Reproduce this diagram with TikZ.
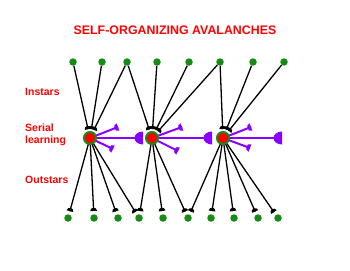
\documentclass[tikz,border=0pt]{standalone}
\usepackage{fontspec}
\setmainfont{Liberation Sans}
\usetikzlibrary{calc,backgrounds,decorations.markings}
\definecolor{ttlred}{RGB}{255,0,0}
\definecolor{dotgreen}{RGB}{22,140,22}
\definecolor{violetline}{RGB}{136,0,255}
\tikzset{
  halfcap/.style 2 args={postaction={decorate,decoration={markings,
     mark=at position 1 with {\fill[#1] (0pt,-#2) arc[start angle=-90,end angle=-270,radius=#2] -- cycle;}}}},
  bighalf/.style={postaction={decorate,decoration={markings,
     mark=at position 1 with {\fill[violetline] (0pt,-6.5pt) arc[start angle=-90,end angle=-270,x radius=8.5pt,y radius=6.5pt] -- cycle;}}}},
  cell/.style={circle,minimum size=12pt,inner sep=0pt,fill=red,draw=dotgreen,line width=2pt,outer sep=3pt},
  topdot/.style={circle,minimum size=7.5pt,inner sep=0pt,fill=dotgreen},
  botdot/.style={circle,minimum size=7.5pt,inner sep=0pt,fill=dotgreen,outer sep=3.3pt},
  blackline/.style={draw=black,line width=1.3pt,halfcap={black}{3.4pt}},
  smallviolet/.style={draw=violetline,line width=2pt,halfcap={violetline}{4pt}},
  bigviolet/.style={draw=violetline,line width=2pt,bighalf},
  lbl/.style={text=ttlred,font=\bfseries\fontsize{10.5}{11.8}\selectfont,inner sep=0pt,align=left},
  ttl/.style={text=ttlred,font=\bfseries\fontsize{12.4}{14}\selectfont,inner sep=0pt},
}
\begin{document}
\begin{tikzpicture}[x=1pt,y=-1pt]
\useasboundingbox (0,0) rectangle (350,270);
\node[ttl,anchor=base] (title) at (175,34.3) {SELF-ORGANIZING AVALANCHES};
\node[lbl,anchor=base west] (lin) at (25,95.3) {Instars};
\node[lbl,anchor=base west] (lser) at (25,143) {Serial\\learning};
\node[lbl,anchor=base west] (lout) at (25,183.3) {Outstars};
% top dots
\foreach \i/\x in {1/73,2/102,3/127,4/157,5/189,6/220,7/253,8/284}
  \node[topdot] (t\i) at (\x,62) {};
% cells
\node[cell] (n1) at (90,138) {};
\node[cell] (n2) at (152,138) {};
\node[cell] (n3) at (223,138) {};
% bottom dots
\foreach \i/\x in {1/68,2/94,3/118,4/139,5/163,6/188,7/211,8/234,9/258,10/278}
  \node[botdot] (b\i) at (\x,218) {};
% purple ends
\coordinate (e1) at (143,138);
\coordinate (u1) at (118,127);
\coordinate (d1) at (113,149);
\coordinate (e2) at (212,138);
\coordinate (u2) at (182,127);
\coordinate (d2) at (178,151);
\coordinate (e3) at (282,138);
\coordinate (u3) at (251,127);
\coordinate (d3) at (250,148);
\begin{scope}[on background layer]
  \fill[white] (0,0) rectangle (350,270);
  \foreach \a/\b in {t1/n1,t2/n1,t3/n1,t3/n2,t4/n2,t5/n2,t6/n2,t6/n3,t7/n3,t8/n3}
    \draw[blackline] (\a) -- (\b);
  \foreach \a/\b in {n1/b1,n1/b2,n1/b3,n1/b4,n2/b4,n2/b5,n2/b6,n3/b6,n3/b7,n3/b8,n3/b9,n3/b10}
    \draw[blackline] (\a.center) -- (\b);
  \foreach \k in {1,2,3}{
    \draw[bigviolet] (n\k.center) -- (e\k);
    \draw[smallviolet] (n\k.center) -- (u\k);
    \draw[smallviolet] (n\k.center) -- (d\k);
  }
\end{scope}
\end{tikzpicture}
\end{document}
